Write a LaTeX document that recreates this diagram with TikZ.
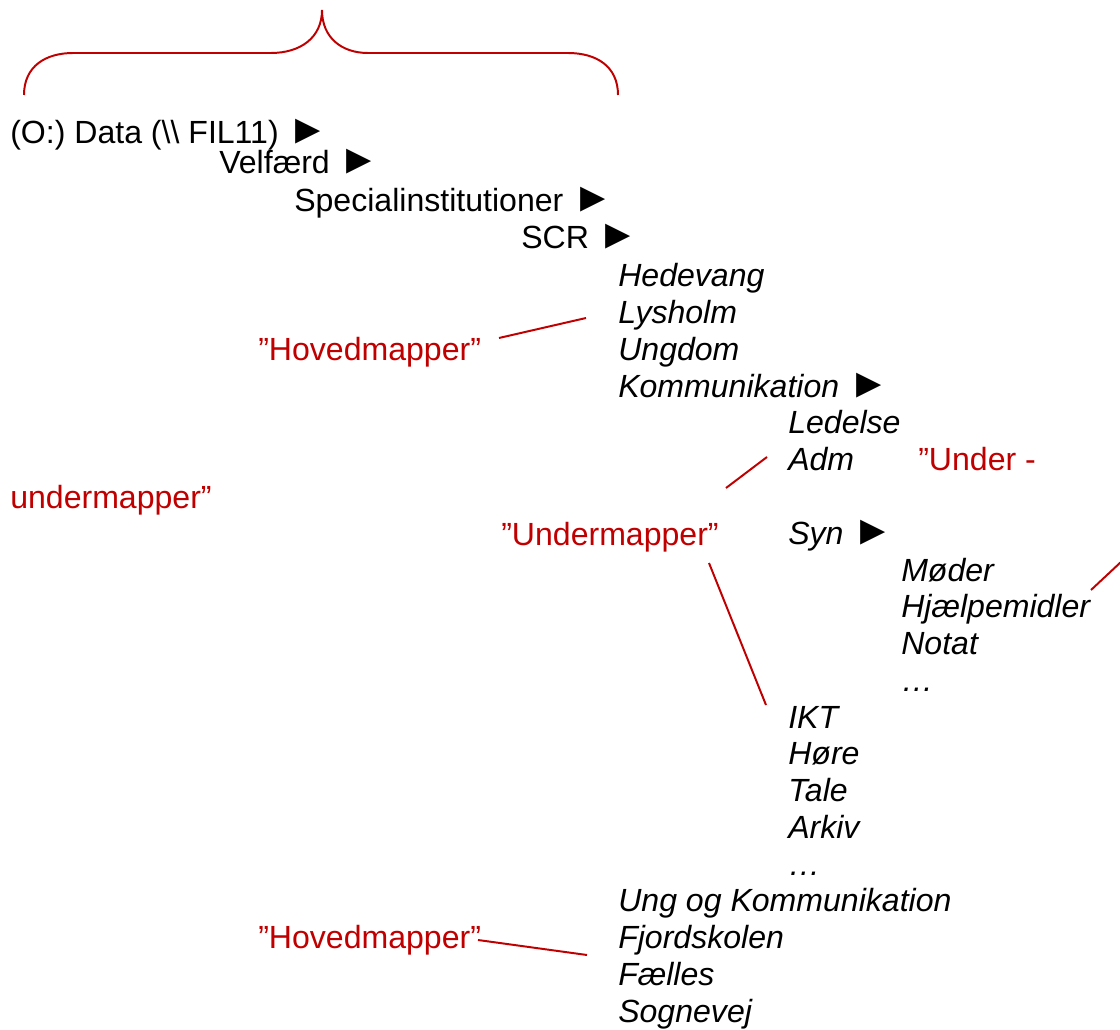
\documentclass[tikz,border=0pt]{standalone}
\usepackage{fontspec}
\setmainfont{Liberation Sans}
\definecolor{note}{HTML}{C00000}
\definecolor{ink}{HTML}{000000}
\newcommand\opens{\scalebox{1.3}{►}}

\begin{document}
\begin{tikzpicture}[x=0.025cm,y=-0.025cm,
  every node/.style={font=\fontsize{22.8}{27}\selectfont,inner sep=0pt,anchor=base west,color=ink},
  folder/.style={font=\fontsize{22.8}{27}\selectfont\itshape},
  tag/.style={color=note},
  lead/.style={draw=note,line width=1.4pt}]
\useasboundingbox (0,0) rectangle (1120,1030);
\def\s{36.75}
% brace over the path
\draw[lead] (24,95) .. controls (24,66) and (46,53) .. (73,53) -- (271,53)
  .. controls (300,53) and (322,38) .. (322,10)
  .. controls (322,38) and (342,53) .. (368,53) -- (568,53)
  .. controls (596,53) and (618,66) .. (618,95);
% path
\node (data) at (10,144) {(O:) Data (\textbackslash\textbackslash{} FIL11) \opens};
\node (velf) at (219,174) {Velfærd \opens};
\node (spec) at (294,212) {Specialinstitutioner \opens};
\node (scr) at (521,249) {SCR \opens};
% folders
\foreach \k/\x/\t in {%
  0/618/Hedevang, 1/618/Lysholm, 2/618/Ungdom, 3/618/Kommunikation \opens,
  4/788/Ledelse, 5/788/Adm, 7/788/Syn \opens,
  8/901/Møder, 9/901/Hjælpemidler, 10/901/Notat, 11/901/…,
  12/788/IKT, 13/788/Høre, 14/788/Tale, 15/788/Arkiv, 16/788/…,
  17/618/Ung og Kommunikation, 18/618/Fjordskolen, 19/618/Fælles, 20/618/Sognevej}{
  \node[folder] (f\k) at (\x,{287+\k*\s}) {\t};
}
% notes
\node[tag] (hovA) at (258,361) {”Hovedmapper”};
\node[tag] (undA) at (918,471) {”Under -};
\node[tag] (undB) at (10,508) {undermapper”};
\node[tag] (undC) at (501,545) {”Undermapper”};
\node[tag] (hovB) at (258,948) {”Hovedmapper”};
\coordinate (hovA-a) at (499,338);
\coordinate (hovA-b) at (586,318);
\coordinate (undC-a) at (726,488);
\coordinate (undC-b) at (767,457);
\coordinate (undC-c) at (709,563);
\coordinate (undC-d) at (766,705);
\coordinate (undA-a) at (1091,590);
\coordinate (undA-b) at (1122,561);
\coordinate (hovB-a) at (478,940);
\coordinate (hovB-b) at (587,955);
\draw[lead] (hovA-a) -- (hovA-b);
\draw[lead] (undC-a) -- (undC-b);
\draw[lead] (undC-c) -- (undC-d);
\draw[lead] (undA-a) -- (undA-b);
\draw[lead] (hovB-a) -- (hovB-b);
\end{tikzpicture}
\end{document}
